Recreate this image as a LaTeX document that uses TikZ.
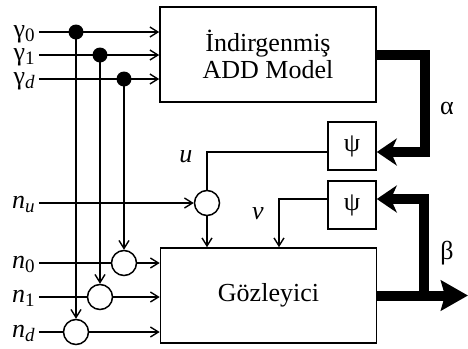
\documentclass[tikz,border=0pt]{standalone}
\usepackage{fontspec}
\setmainfont{Liberation Serif}
\usetikzlibrary{arrows.meta}
\newcommand{\lowidx}[1]{\raisebox{-0.35ex}{\fontsize{9.5}{9.5}\selectfont #1}}

\begin{document}
\begin{tikzpicture}[
  x=0.5pt, y=-0.5pt,
  font=\fontsize{13}{13.5}\selectfont,
  block/.style={draw, line width=0.8pt, minimum width=108pt, minimum height=47.5pt, inner sep=0pt, align=center},
  psibox/.style={draw, line width=0.8pt, minimum width=24pt, minimum height=24pt, inner sep=0pt},
  sum/.style={circle, draw, line width=0.75pt, minimum size=12.5pt, inner sep=0pt},
  dot/.style={circle, fill, minimum size=7.5pt, inner sep=0pt},
  sig/.style={line width=0.7pt},
  arr/.style={sig, -{Straight Barb[length=4pt,width=5pt]}},
  busarr/.style={line width=5pt, -{Stealth[length=10pt,width=13.5pt,inset=3pt]}},
  lbl/.style={anchor=base east, inner sep=2pt}
]
\useasboundingbox (0,0) rectangle (468,349);

\node[block] (add) at (268,54.5) {İndirgenmiş\\ADD Model};
\node[block] (obs) at (268.5,295.5) {Gözleyici};
\node[psibox] (psi1) at (352,146) {ψ};
\node[psibox] (psi2) at (352,205) {ψ};

\node[lbl] (g0) at (39,37) {γ\lowidx{0}};
\node[lbl] (g1) at (39,60) {γ\lowidx{1}};
\node[lbl] (gd) at (39,84) {γ\lowidx{\textit{d}}};
\node[lbl] (nu) at (39,208) {\textit{n}\lowidx{\textit{u}}};
\node[lbl] (n0) at (39,268) {\textit{n}\lowidx{0}};
\node[lbl] (n1) at (39,302) {\textit{n}\lowidx{1}};
\node[lbl] (nd) at (39,337) {\textit{n}\lowidx{\textit{d}}};

\node[sum] (su) at (207,203) {};
\node[sum] (s0) at (124,263) {};
\node[sum] (s1) at (100,297) {};
\node[sum] (sd) at (76,332) {};

\draw[arr] (g0.east |- 0,32) -- (add.west |- 0,32);
\draw[arr] (g1.east |- 0,55) -- (add.west |- 0,55);
\draw[arr] (gd.east |- 0,79) -- (add.west |- 0,79);

\node[dot] (d0) at (76,32) {};
\node[dot] (d1) at (100,55) {};
\node[dot] (dd) at (124,79) {};

\draw[arr] (d0.center) -- (sd.north);
\draw[arr] (d1.center) -- (s1.north);
\draw[arr] (dd.center) -- (s0.north);

\draw[arr] (nu.east |- su) -- (su.west);
\draw[sig] (n0.east |- s0) -- (s0.west);
\draw[sig] (n1.east |- s1) -- (s1.west);
\draw[sig] (nd.east |- sd) -- (sd.west);
\draw[arr] (s0.east) -- (s0.east -| obs.west);
\draw[arr] (s1.east) -- (s1.east -| obs.west);
\draw[arr] (sd.east) -- (sd.east -| obs.west);

\draw[sig] (su.north) |- ([yshift=-3pt]psi1.west);
\draw[arr] (su.south) -- (su.south |- obs.north);
\draw[arr] ([yshift=3pt]psi2.west) -| ([xshift=5.25pt]obs.north);
\node (ulab) at (186,157) {\textit{u}};
\node (vlab) at (258,214) {\textit{v}};

\coordinate (acorner) at (425,152);
\draw[busarr] (add.east) -| (acorner) -- ([yshift=-3pt]psi1.east);
\node (alab) at (447,108) {α};

\coordinate (bout) at (468,295.5);
\coordinate (bsplit) at (424,295.5);
\draw[line width=5pt, -{Stealth[length=13.5pt,width=15pt,inset=2pt]}] (obs.east) -- (bout);
\draw[busarr] (bsplit) |- ([yshift=3pt]psi2.east);
\node (blab) at (447,253) {β};

\end{tikzpicture}
\end{document}
